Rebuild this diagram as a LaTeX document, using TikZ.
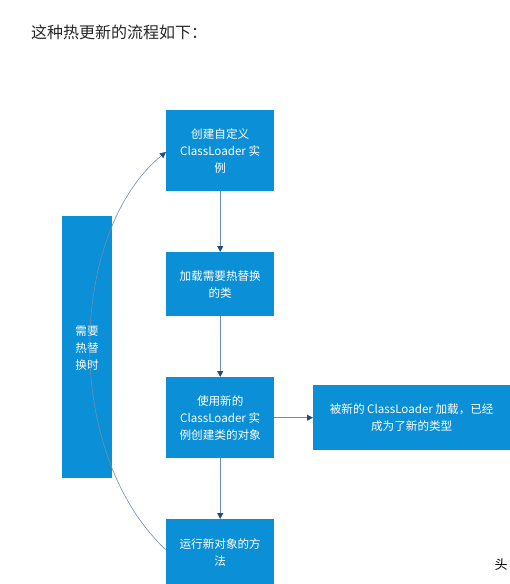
\documentclass[tikz,border=0pt]{standalone}
\usepackage{fontspec}
\setmainfont{Noto Sans CJK SC}
\usetikzlibrary{arrows.meta}
\definecolor{boxblue}{HTML}{0B8FD6}
\definecolor{linec}{HTML}{6E8FAE}
\definecolor{tipc}{HTML}{1F4E79}
\tikzset{
  box/.style={fill=boxblue, text=white, inner sep=0pt, align=center,
    font=\fontsize{11.6}{17}\selectfont, anchor=north west},
  conn/.style={draw=linec, line width=0.8pt, -{Triangle[length=6pt,width=6pt,fill=tipc,color=tipc]}}
}
\begin{document}
\begin{tikzpicture}[x=1pt,y=-1pt]
\useasboundingbox (0,0) rectangle (510,584);
\fill[white] (0,0) rectangle (510,584);
\node[anchor=west, inner sep=0pt, font=\fontsize{16}{18}\selectfont, text=black!85] (title) at (31,32) {这种热更新的流程如下：};
\node[box, minimum width=108pt, minimum height=81pt] (b1) at (166,110) {创建自定义\\ClassLoader 实\\例};
\node[box, minimum width=108pt, minimum height=64pt] (b2) at (166,252) {加载需要热替换\\的类};
\node[box, minimum width=108pt, minimum height=81pt] (b3) at (166,377) {使用新的\\ClassLoader 实\\例创建类的对象};
\node[box, minimum width=108pt, minimum height=66pt] (b4) at (166,519) {运行新对象的方\\法};
\node[box, minimum width=50pt, minimum height=262pt] (left) at (62,216) {};
\node[text=white, font=\fontsize{11.6}{17}\selectfont, align=center] (lefttext) at (87,348) {需要\\热替\\换时};
\node[box, minimum width=197pt, minimum height=65pt] (right) at (313,385) {被新的 ClassLoader 加载，已经\\成为了新的类型};
\draw[conn] (b1) -- (b2);
\draw[conn] (b2) -- (b3);
\draw[conn] (b3) -- (b4);
\draw[conn] (b3) -- (right);
\coordinate (cs) at (166,550);
\coordinate (ce) at (166,152);
\draw[conn, line width=0.6pt] (cs) .. controls (60,450) and (70,230) .. (ce);
\node[font=\fontsize{13}{14}\selectfont] (tou) at (501,565) {头};
\end{tikzpicture}
\end{document}
